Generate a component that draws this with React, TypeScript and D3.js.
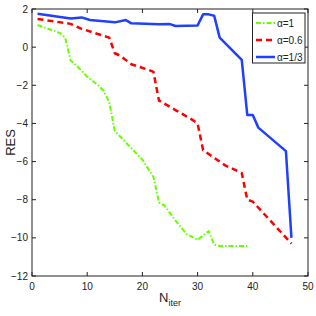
import React from "react";
import * as d3 from "d3";

const xTicks = [0, 10, 20, 30, 40, 50];
const yTicks = [2, 0, -2, -4, -6, -8, -10, -12];

const greenX = [1, 5, 6, 7, 8, 10, 12, 13, 14, 15, 17, 20, 22, 23, 24, 26, 28, 30, 32, 33, 34, 39];
const greenY = [1.16, 0.75, 0.5, -0.7, -0.95, -1.55, -2.0, -2.3, -2.9, -4.4, -5.0, -5.9, -6.8, -8.15, -8.3, -9.1, -9.8, -10.1, -9.65, -10.35, -10.43, -10.43];

const redX = [1, 7, 9, 14, 15, 16, 18, 21, 22, 23, 26, 29, 30, 31, 32, 35, 38, 39, 40, 47];
const redY = [1.48, 1.22, 0.96, 0.5, -0.32, -0.45, -0.9, -1.18, -1.3, -2.8, -3.3, -3.8, -4.0, -5.4, -5.6, -6.2, -6.6, -8.0, -8.1, -10.3];

const blueX = [1, 7, 9, 10.5, 15, 17, 18, 23, 25, 26, 30, 31, 32, 33, 34, 38, 39, 40, 41, 46, 47];
const blueY = [1.75, 1.5, 1.56, 1.42, 1.3, 1.42, 1.25, 1.2, 1.21, 1.11, 1.14, 1.72, 1.72, 1.65, 0.5, -0.67, -3.56, -3.56, -4.22, -5.45, -10.0];

const legendLabels = ["α=1", "α=0.6", "α=1/3"];

export default function App() {
  const W = 316, H = 316;
  const x = d3.scaleLinear().domain([0, 50]).range([32, 308]);
  const y = d3.scaleLinear().domain([-12, 2]).range([276, 9]);
  const line = d3.line<[number, number]>().x(d => x(d[0])).y(d => y(d[1]));
  const zip = (a: number[], b: number[]) => a.map((v, i) => [v, b[i]] as [number, number]);
  const series = [
    { d: zip(greenX, greenY), color: "#66ff00", dash: "5,2,1.5,2", w: 2 },
    { d: zip(redX, redY), color: "#ff0000", dash: "6,4", w: 2.5 },
    { d: zip(blueX, blueY), color: "#2040ff", dash: "none", w: 2.5 },
  ];
  const font = "Liberation Sans, Arial, sans-serif";
  const left = 32, right = 308, top = 9, bottom = 276;
  return (
    <svg width={W} height={H} style={{ position: "absolute", left: 0, top: 0, background: "#fff" }}>
      <rect x={0} y={0} width={W} height={H} fill="#fff" />
      {series.map((s, i) => (
        <path key={i} d={line(s.d) || ""} fill="none" stroke={s.color} strokeWidth={s.w}
          strokeDasharray={s.dash} strokeLinejoin="round" />
      ))}
      <rect x={left} y={top} width={right - left} height={bottom - top} fill="none" stroke="#222" strokeWidth={1} />
      {xTicks.map(t => (
        <g key={"x" + t}>
          <line x1={x(t)} x2={x(t)} y1={bottom} y2={bottom - 4} stroke="#222" />
          <line x1={x(t)} x2={x(t)} y1={top} y2={top + 4} stroke="#222" />
          <text x={x(t)} y={bottom + 14} textAnchor="middle" fontSize={10} fontFamily={font} fill="#222">{t}</text>
        </g>
      ))}
      {yTicks.map(t => (
        <g key={"y" + t}>
          <line x1={left} x2={left + 4} y1={y(t)} y2={y(t)} stroke="#222" />
          <line x1={right} x2={right - 4} y1={y(t)} y2={y(t)} stroke="#222" />
          <text x={left - 4} y={y(t) + 3.5} textAnchor="end" fontSize={10} fontFamily={font} fill="#222">{t < 0 ? "\u2212" + Math.abs(t) : t}</text>
        </g>
      ))}
      <text transform={`translate(15,${(top + bottom) / 2}) rotate(-90)`} textAnchor="middle" fontSize={13} fontFamily={font} fill="#222">RES</text>
      <text x={159} y={302} fontSize={13} fontFamily={font} fill="#222">N<tspan fontSize={9} dy={4}>iter</tspan></text>
      <rect x={252.5} y={13} width={52.5} height={50} fill="#fff" stroke="#222" strokeWidth={1} />
      {series.map((s, i) => {
        const ly = 23 + i * 17;
        return (
          <g key={"l" + i}>
            <line x1={256} x2={275} y1={ly} y2={ly} stroke={s.color} strokeWidth={s.w} strokeDasharray={s.dash} />
            <text x={277} y={ly + 4} fontSize={10} fontFamily={font} fill="#222">{legendLabels[i]}</text>
          </g>
        );
      })}
    </svg>
  );
}
